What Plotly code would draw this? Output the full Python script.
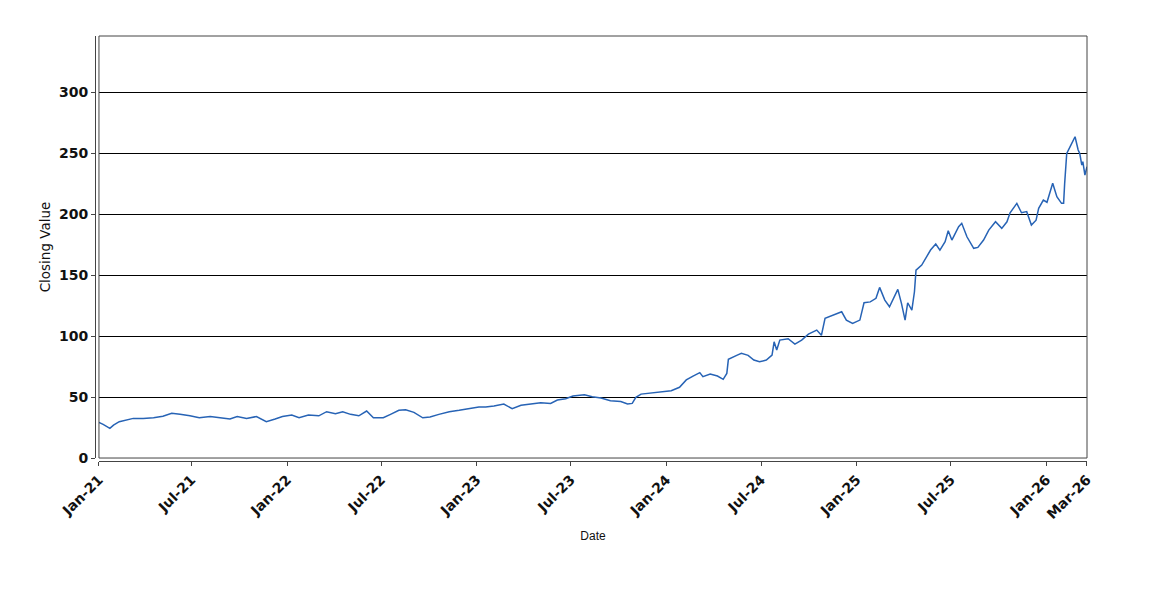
import plotly.graph_objects as go

dates = [
    "2021-01-04", "2021-01-12", "2021-01-25", "2021-02-01", "2021-02-12", "2021-02-26",
    "2021-03-11", "2021-03-30", "2021-04-19", "2021-05-07", "2021-05-24", "2021-06-09",
    "2021-06-28", "2021-07-16", "2021-08-06", "2021-08-25", "2021-09-13", "2021-09-27",
    "2021-10-15", "2021-11-03", "2021-11-22", "2021-12-09", "2021-12-23",
    "2022-01-10", "2022-01-24", "2022-02-11", "2022-03-03", "2022-03-18", "2022-04-04",
    "2022-04-18", "2022-05-03", "2022-05-19", "2022-06-03", "2022-06-16", "2022-07-05",
    "2022-07-19", "2022-08-04", "2022-08-17", "2022-09-02", "2022-09-19", "2022-10-03",
    "2022-10-20", "2022-11-09", "2022-11-28", "2022-12-16",
    "2023-01-05", "2023-01-18", "2023-02-03", "2023-02-22", "2023-03-10", "2023-03-27",
    "2023-04-14", "2023-05-04", "2023-05-23", "2023-06-05", "2023-06-21", "2023-07-05",
    "2023-07-27", "2023-08-11", "2023-08-28", "2023-09-15", "2023-10-05", "2023-10-18",
    "2023-10-27", "2023-11-03", "2023-11-13", "2023-12-04", "2023-12-21",
    "2024-01-10", "2024-01-26", "2024-02-08", "2024-02-21", "2024-03-05", "2024-03-11",
    "2024-03-25", "2024-04-08", "2024-04-19", "2024-04-26", "2024-04-29", "2024-05-15",
    "2024-05-24", "2024-06-06", "2024-06-17", "2024-06-28", "2024-07-11", "2024-07-22",
    "2024-07-26", "2024-07-31", "2024-08-06", "2024-08-22", "2024-09-04", "2024-09-17",
    "2024-09-30", "2024-10-16", "2024-10-25", "2024-11-01", "2024-11-18", "2024-12-03",
    "2024-12-12", "2024-12-24",
    "2025-01-07", "2025-01-15", "2025-01-27", "2025-02-07", "2025-02-14", "2025-02-24",
    "2025-03-05", "2025-03-21", "2025-03-28", "2025-04-04", "2025-04-09", "2025-04-17",
    "2025-04-22", "2025-04-25", "2025-05-06", "2025-05-15", "2025-05-23", "2025-06-02",
    "2025-06-10", "2025-06-20", "2025-06-26", "2025-07-03", "2025-07-16", "2025-07-22",
    "2025-08-01", "2025-08-14", "2025-08-22", "2025-09-02", "2025-09-12", "2025-09-25",
    "2025-10-07", "2025-10-17", "2025-10-23", "2025-11-05", "2025-11-14", "2025-11-24",
    "2025-12-03", "2025-12-12", "2025-12-17", "2025-12-26",
    "2026-01-02", "2026-01-13", "2026-01-21", "2026-01-30", "2026-02-03", "2026-02-05",
    "2026-02-09", "2026-02-17", "2026-02-25", "2026-03-03", "2026-03-06", "2026-03-10",
    "2026-03-12", "2026-03-16", "2026-03-20",
]

closing = [
    29.2, 27.6, 24.3, 27.0, 29.8, 30.9,
    32.5, 32.5, 33.0, 34.2, 36.6, 35.8,
    34.7, 33.0, 34.0, 33.0, 32.0, 34.0,
    32.5, 34.0, 29.8, 32.0, 34.0,
    35.2, 33.0, 35.2, 34.6, 38.0, 36.3,
    38.0, 35.8, 34.6, 38.5, 33.0, 33.0,
    35.8, 39.1, 39.6, 37.4, 33.0, 33.6,
    35.8, 38.0, 39.1, 40.4,
    41.8, 41.8, 42.6, 44.3, 40.4, 43.2,
    44.3, 45.3, 44.8, 47.5, 48.6, 50.8,
    51.9, 50.2, 49.2, 47.0, 46.4, 44.3,
    44.8, 49.7, 52.4, 53.5, 54.1,
    55.2, 58.0, 64.0, 67.2, 70.0, 66.7,
    68.9, 67.2, 64.5, 69.4, 80.9, 84.2,
    85.8, 84.2, 80.3, 78.9, 80.3, 84.4,
    95.3, 88.5, 96.7, 97.8, 93.4, 96.7,
    101.6, 104.9, 100.6, 114.5, 117.5, 119.9,
    113.1, 110.4,
    113.1, 127.3, 128.0, 130.9, 139.9, 129.5,
    124.0, 138.3, 126.8, 113.0, 127.3, 121.3,
    136.3, 154.0, 158.2, 164.5, 170.5, 175.4,
    170.5, 177.3, 186.3, 178.7, 189.6, 192.4,
    181.4, 171.9, 172.7, 178.7, 186.9, 193.7,
    188.3, 193.7, 201.1, 208.8, 201.1, 202.0,
    191.0, 195.0, 204.7, 211.5,
    209.7, 225.2, 214.2, 208.8, 208.8, 225.0,
    249.8, 256.6, 263.4, 252.5, 249.8, 240.2,
    243.0, 232.0, 238.8,
]

x_tick_vals = ["2021-01-04", "2021-07-01", "2022-01-01", "2022-07-01", "2023-01-01",
               "2023-07-01", "2024-01-01", "2024-07-01", "2025-01-01", "2025-07-01",
               "2026-01-01", "2026-03-20"]
x_tick_text = ["Jan-21", "Jul-21", "Jan-22", "Jul-22", "Jan-23", "Jul-23", "Jan-24",
               "Jul-24", "Jan-25", "Jul-25", "Jan-26", "Mar-26"]
y_tick_vals = [0, 50, 100, 150, 200, 250, 300]

fig = go.Figure()
fig.add_trace(go.Scatter(
    x=dates, y=closing, mode="lines",
    line=dict(color="#2763b5", width=1.5),
    showlegend=False,
))

axis_gray = "#444444"
tick_font = dict(family="DejaVu Sans", size=14, color="#111111", weight="bold")
fig.update_layout(
    width=1150, height=600,
    paper_bgcolor="white", plot_bgcolor="white",
    margin=dict(l=87, r=71, t=28, b=147),
    font=dict(family="DejaVu Sans", color="#111111"),
    xaxis=dict(
        domain=[0.004, 1],
        anchor="free", position=0,
        range=[dates[0], dates[-1]],
        tickmode="array", tickvals=x_tick_vals, ticktext=x_tick_text,
        tickangle=-45,
        tickfont=tick_font,
        ticks="outside", ticklen=4, tickcolor=axis_gray, tickwidth=1,
        showline=True, linecolor=axis_gray, linewidth=1,
        showgrid=False, zeroline=False,
        title=dict(text="Date", font=dict(family="Liberation Sans", size=12, color="#111111"),
                   standoff=10),
        automargin=False,
    ),
    yaxis=dict(
        domain=[0.007, 1],
        anchor="free", position=0,
        range=[0, 346],
        tickmode="array", tickvals=y_tick_vals,
        tickfont=tick_font,
        ticks="outside", ticklen=4, tickcolor=axis_gray, tickwidth=1,
        showline=True, linecolor=axis_gray, linewidth=1,
        showgrid=True, gridcolor="black", gridwidth=1,
        zeroline=False,
        title=dict(text="Closing Value", font=dict(family="DejaVu Sans", size=13.5, color="#111111"),
                   standoff=4),
        automargin=False,
    ),
)

fig.add_shape(type="rect", xref="x domain", yref="y domain",
              x0=0, x1=1, y0=0, y1=1,
              line=dict(color=axis_gray, width=1), fillcolor="rgba(0,0,0,0)",
              layer="above")

fig.write_html("out.html")
